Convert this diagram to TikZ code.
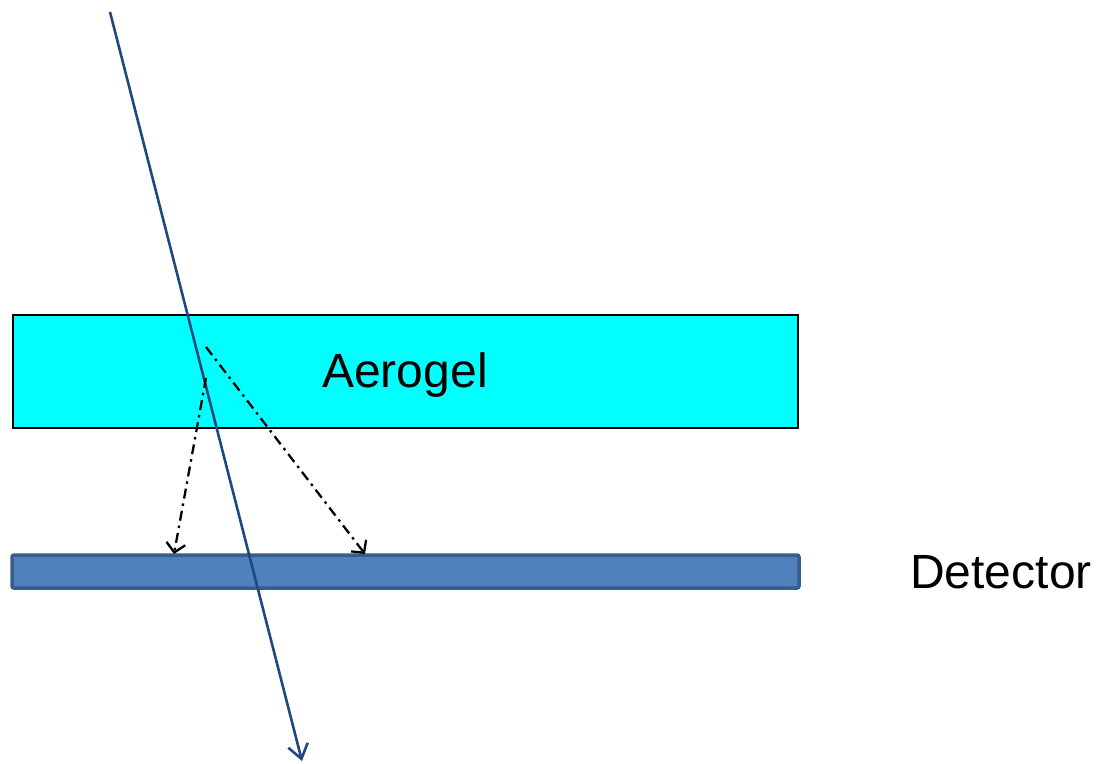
\documentclass[tikz,border=0pt]{standalone}
\usepackage{fontspec}
\setmainfont{Liberation Sans}
\usetikzlibrary{arrows.meta}
\definecolor{aerofill}{RGB}{0,255,255}
\definecolor{detfill}{RGB}{79,129,189}
\definecolor{detdraw}{RGB}{56,93,138}
\definecolor{trackcol}{RGB}{31,73,125}
\tikzset{
  aero/.style={draw=black, line width=2.5pt, fill=aerofill},
  det/.style={draw=detdraw, line width=3.5pt, fill=detfill, rounded corners=2pt},
  label/.style={font=\fontsize{48}{52}\selectfont, text=black, inner sep=0pt},
  track/.style={draw=trackcol, line width=2.6pt, -{Straight Barb[length=14pt,width=20pt,line width=2.6pt]}},
  photon/.style={draw=black, line width=2.3pt, dash pattern=on 10pt off 5pt on 2.5pt off 5pt, -{Straight Barb[length=9pt,width=19pt,line width=2.3pt]}}
}
\begin{document}
\begin{tikzpicture}[x=1pt,y=-1pt]
\useasboundingbox (0,0) rectangle (1100,763);
\draw[aero] (13,315) rectangle (798,428);
\node[label] (aerolabel) at (405,375) {Aerogel};
\draw[det] (12,555) rectangle (799,588);
\node[label] (detlabel) at (1001,572) {Detector};
\coordinate (tstart) at (110,12);
\coordinate (tend) at (302,761);
\draw[track] (tstart) -- (tend);
\coordinate (e1) at (206,347);
\coordinate (e2) at (206,378);
\coordinate (h1) at (365,554);
\coordinate (h2) at (174,554);
\draw[photon] (e1) -- (h1);
\draw[photon] (e2) -- (h2);
\end{tikzpicture}
\end{document}
